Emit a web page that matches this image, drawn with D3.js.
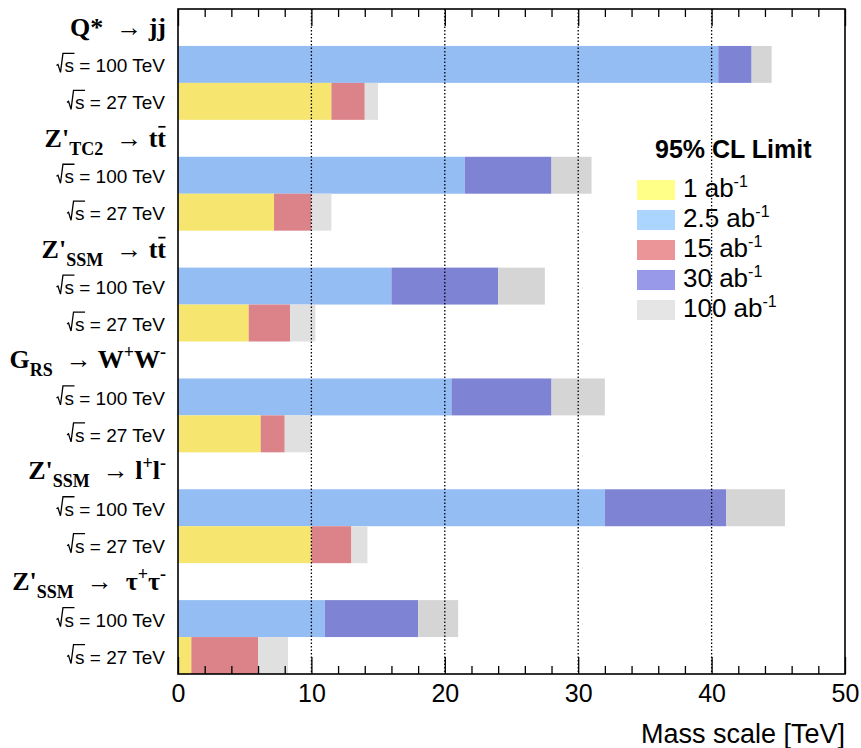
<!DOCTYPE html>
<html>
<head>
<meta charset="utf-8">
<script src="https://cdn.jsdelivr.net/npm/d3@7"></script>
<style>
  html, body { margin: 0; padding: 0; background: #fff; }
  svg { display: block; }
  text { white-space: pre; }
</style>
</head>
<body>
<svg id="chart" width="861" height="748"></svg>
<script>
// ---- data ------------------------------------------------------------
// signal processes, top to bottom
const processes = ["Q* → jj", "Z'TC2 → tt̄", "Z'SSM → tt̄", "GRS → W+W-", "Z'SSM → l+l-", "Z'SSM → τ+τ-"];
// collider energies shown under each process
const energies = ["√s = 100 TeV", "√s = 27 TeV"];

// 95% CL mass reach [TeV] at sqrt(s) = 100 TeV
const reach100_2p5 = [40.5, 21.5, 16.0, 20.5, 32.0, 11.0];   // 2.5 ab^-1
const reach100_30  = [43.0, 28.0, 24.0, 28.0, 41.1, 18.0];   // 30 ab^-1
const reach100_100 = [44.5, 31.0, 27.5, 32.0, 45.5, 21.0];   // 100 ab^-1

// 95% CL mass reach [TeV] at sqrt(s) = 27 TeV
const reach27_1   = [11.5, 7.2, 5.3, 6.2, 10.0, 1.0];        // 1 ab^-1
const reach27_15  = [14.0, 10.0, 8.4, 8.0, 13.0, 6.0];       // 15 ab^-1
const reach27_100 = [15.0, 11.5, 10.3, 10.0, 14.2, 8.25];    // 100 ab^-1

// legend entries (integrated luminosity, ab^-1)
const legendLumi = ["1", "2.5", "15", "30", "100"];
const legendTitle = "95% CL Limit";

// axis
const xMajorTicks = [0, 10, 20, 30, 40, 50];
const xMinorTicks = [2, 4, 6, 8, 12, 14, 16, 18, 22, 24, 26, 28, 32, 34, 36, 38, 42, 44, 46, 48];
const xGridTicks = [10, 20, 30, 40];
const xTitle = "Mass scale [TeV]";

// ---- rich-text markup for the process headers -------------------------
const processMarkup = [
  [{t: "Q*  \u2192 jj"}],
  [{t: "Z'"}, {t: "TC2", sub: true}, {t: "  \u2192 t"}, {t: "t", bar: true}],
  [{t: "Z'"}, {t: "SSM", sub: true}, {t: "  \u2192 t"}, {t: "t", bar: true}],
  [{t: "G"}, {t: "RS", sub: true}, {t: "  \u2192 W"}, {t: "+", sup: true}, {t: "W"}, {t: "-", sup: true}],
  [{t: "Z'"}, {t: "SSM", sub: true}, {t: "  \u2192 l"}, {t: "+", sup: true}, {t: "l"}, {t: "-", sup: true}],
  [{t: "Z'"}, {t: "SSM", sub: true}, {t: "  \u2192  \u03c4"}, {t: "+", sup: true}, {t: "\u03c4"}, {t: "-", sup: true}]
];

// ---- styling ---------------------------------------------------------
const colors = {
  y1:   "#f6e56e",
  b2p5: "#93bdf3",
  r15:  "#db8388",
  p30:  "#7f83d3",
  g100: "#d5d5d5",
  g27:  "#e0e0e0"
};
const legendColors = ["#ffff88", "#abd4fe", "#eb9599", "#989ae9", "#e5e5e5"];

const SANS = "'Liberation Sans', Arial, Helvetica, sans-serif";
const SERIF = "'Liberation Serif', 'Times New Roman', serif";

const plot = {left: 178, right: 845, top: 9, bottom: 674};

const svg = d3.select("#chart");

// rows: header, 100 TeV, 27 TeV for each process
const rows = [];
processes.forEach((p, i) => {
  rows.push({id: "h" + i, kind: "head", i});
  rows.push({id: "a" + i, kind: "e100", i});
  rows.push({id: "b" + i, kind: "e27", i});
});

const x = d3.scaleLinear().domain([0, 50]).range([plot.left, plot.right]);
const y = d3.scaleBand().domain(rows.map(r => r.id)).range([plot.top, plot.bottom]).padding(0);

// ---- bars --------------------------------------------------------------
const segments = [];
rows.forEach(r => {
  const i = r.i;
  if (r.kind === "e100") {
    segments.push({row: r.id, from: 0, to: reach100_2p5[i], c: colors.b2p5});
    segments.push({row: r.id, from: reach100_2p5[i], to: reach100_30[i], c: colors.p30});
    segments.push({row: r.id, from: reach100_30[i], to: reach100_100[i], c: colors.g100});
  } else if (r.kind === "e27") {
    segments.push({row: r.id, from: 0, to: reach27_1[i], c: colors.y1});
    segments.push({row: r.id, from: reach27_1[i], to: reach27_15[i], c: colors.r15});
    segments.push({row: r.id, from: reach27_15[i], to: reach27_100[i], c: colors.g27});
  }
});

svg.append("g").selectAll("rect")
  .data(segments)
  .join("rect")
  .attr("x", d => x(d.from))
  .attr("width", d => x(d.to) - x(d.from))
  .attr("y", d => y(d.row))
  .attr("height", y.bandwidth())
  .attr("fill", d => d.c);

// ---- dotted grid ------------------------------------------------------
svg.append("g").selectAll("line")
  .data(xGridTicks)
  .join("line")
  .attr("x1", d => x(d)).attr("x2", d => x(d))
  .attr("y1", plot.top).attr("y2", plot.bottom)
  .attr("stroke", "#000")
  .attr("stroke-width", 1.3)
  .attr("stroke-dasharray", "1.5,2");

// ---- axes --------------------------------------------------------------
const bottomMajor = d3.axisBottom(x).tickValues(xMajorTicks).tickSizeInner(-17).tickSizeOuter(0).tickPadding(10);
const bottomMinor = d3.axisBottom(x).tickValues(xMinorTicks).tickSizeInner(-8).tickSizeOuter(0).tickFormat("");
const topMajor = d3.axisTop(x).tickValues(xMajorTicks).tickSizeInner(-17).tickSizeOuter(0).tickFormat("");
const topMinor = d3.axisTop(x).tickValues(xMinorTicks).tickSizeInner(-8).tickSizeOuter(0).tickFormat("");

function styleAxis(g) {
  g.select(".domain").remove();
  g.selectAll(".tick line").attr("stroke", "#000").attr("stroke-width", 1.3);
  g.selectAll(".tick text").attr("font-family", SANS).attr("font-size", 25).attr("fill", "#000");
}

svg.append("g").attr("transform", `translate(0,${plot.bottom})`).call(bottomMajor).call(styleAxis);
svg.append("g").attr("transform", `translate(0,${plot.bottom})`).call(bottomMinor).call(styleAxis);
svg.append("g").attr("transform", `translate(0,${plot.top})`).call(topMajor).call(styleAxis);
svg.append("g").attr("transform", `translate(0,${plot.top})`).call(topMinor).call(styleAxis);

// frame
svg.append("rect")
  .attr("x", plot.left).attr("y", plot.top)
  .attr("width", plot.right - plot.left).attr("height", plot.bottom - plot.top)
  .attr("fill", "none").attr("stroke", "#000").attr("stroke-width", 1.6);

// axis title
svg.append("text")
  .attr("x", plot.right).attr("y", 743)
  .attr("text-anchor", "end")
  .attr("font-family", SANS).attr("font-size", 27)
  .text(xTitle);

// ---- row labels --------------------------------------------------------
function richText(sel, segs, subSize, subDy, supDy) {
  let shift = 0;
  const bars = [];
  let idx = 0;
  segs.forEach(s => {
    const ts = sel.append("tspan").text(s.t);
    const target = s.sub ? subDy : s.sup ? -supDy : 0;
    if (target - shift !== 0) ts.attr("dy", target - shift);
    shift = target;
    if (s.sub || s.sup) ts.attr("font-size", subSize);
    if (s.bar) bars.push(idx);
    idx += s.t.length;
  });
  return bars;
}

const labelG = svg.append("g");
rows.forEach(r => {
  const cy = y(r.id) + y.bandwidth() / 2;
  if (r.kind === "head") {
    const base = cy + 8.5;
    const t = labelG.append("text")
      .attr("x", 166).attr("y", base)
      .attr("text-anchor", "end")
      .attr("font-family", SERIF).attr("font-weight", "bold")
      .attr("font-size", 26);
    const bars = richText(t, processMarkup[r.i], 18, 8, 10);
    const node = t.node();
    bars.forEach(ci => {
      const ext = node.getExtentOfChar(ci);
      labelG.append("line")
        .attr("x1", ext.x + 1).attr("x2", ext.x + ext.width - 0.5)
        .attr("y1", base - 20).attr("y2", base - 20)
        .attr("stroke", "#000").attr("stroke-width", 1.7);
    });
  } else {
    const label = r.kind === "e100" ? energies[0] : energies[1];
    const base = cy + 8;
    const t = labelG.append("text")
      .attr("x", 165).attr("y", base)
      .attr("text-anchor", "end")
      .attr("font-family", SANS).attr("font-size", 19)
      .text(label.replace("√", ""));
    const node = t.node();
    const sx = 165 - node.getComputedTextLength();
    const sw = node.getExtentOfChar(0).width;
    // radical sign drawn over the "s"
    labelG.append("path")
      .attr("d", `M${sx - 8},${base - 7} L${sx - 6.5},${base - 8} L${sx - 4},${base} L${sx - 1.5},${base - 19} L${sx + sw + 0.5},${base - 19}`)
      .attr("fill", "none").attr("stroke", "#000").attr("stroke-width", 1.3)
      .attr("stroke-linejoin", "miter");
  }
});

// ---- legend --------------------------------------------------------------
const legend = svg.append("g");
legend.append("text")
  .attr("x", 655).attr("y", 158)
  .attr("font-family", SANS).attr("font-weight", "bold").attr("font-size", 25)
  .text(legendTitle);

legendLumi.forEach((l, k) => {
  legend.append("rect")
    .attr("x", 637).attr("y", 180 + k * 30)
    .attr("width", 38).attr("height", 20)
    .attr("fill", legendColors[k]);
  const t = legend.append("text")
    .attr("x", 683).attr("y", 197 + k * 30)
    .attr("font-family", SANS).attr("font-size", 26);
  t.append("tspan").text(l + " ab");
  t.append("tspan").attr("dy", -10).attr("font-size", 16).text("-1");
});
</script>
</body>
</html>
